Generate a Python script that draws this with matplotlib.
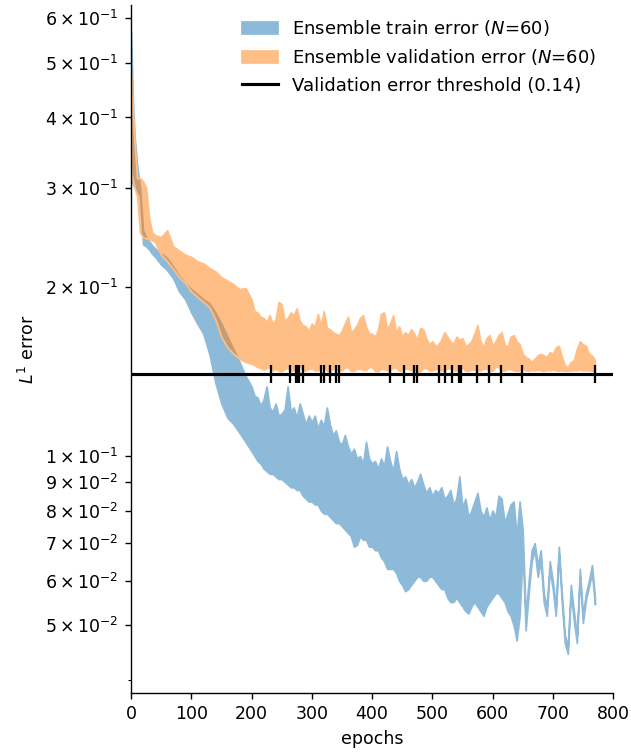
import numpy as np
import matplotlib
matplotlib.use("Agg")
import matplotlib.pyplot as plt
from matplotlib.ticker import FixedLocator, FuncFormatter

epochs = [0, 3, 6, 10, 15, 20, 25, 30, 35, 40] + list(range(50, 200, 10)) + list(range(200, 775, 5))

train_hi = [0.569, 0.43, 0.37, 0.33, 0.30, 0.252, 0.245, 0.241, 0.237, 0.234,
            0.229, 0.225, 0.217, 0.209, 0.203, 0.198, 0.194, 0.190, 0.187, 0.180, 0.172, 0.163, 0.155, 0.147, 0.139,
            0.133, 0.128, 0.127, 0.123, 0.126, 0.133, 0.122, 0.120, 0.124, 0.118,
            0.119, 0.121, 0.133, 0.120, 0.122, 0.117, 0.124, 0.119, 0.114, 0.118,
            0.115, 0.118, 0.112, 0.116, 0.113, 0.122, 0.114, 0.109, 0.111, 0.106,
            0.105, 0.109, 0.104, 0.101, 0.103, 0.099, 0.100, 0.097, 0.106, 0.099,
            0.097, 0.098, 0.095, 0.099, 0.096, 0.104, 0.098, 0.094, 0.102, 0.095,
            0.091, 0.092, 0.089, 0.091, 0.088, 0.090, 0.093, 0.089, 0.086, 0.088,
            0.085, 0.087, 0.086, 0.088, 0.084, 0.085, 0.087, 0.082, 0.084, 0.092,
            0.081, 0.084, 0.078, 0.080, 0.083, 0.086, 0.080, 0.078, 0.081, 0.077,
            0.080, 0.078, 0.085, 0.084, 0.076, 0.079, 0.082, 0.083, 0.072,
            0.083, 0.074, 0.052, 0.060, 0.068, 0.070, 0.064, 0.068, 0.057, 0.054, 0.065, 0.060, 0.054,
            0.069, 0.057, 0.048, 0.046, 0.059, 0.053, 0.048, 0.063, 0.052, 0.057, 0.060, 0.064, 0.056]

train_lo = [0.310, 0.305, 0.300, 0.297, 0.290, 0.238, 0.236, 0.233, 0.229, 0.226,
            0.219, 0.214, 0.207, 0.196, 0.190, 0.180, 0.172, 0.165, 0.152, 0.135, 0.124, 0.117, 0.114, 0.110, 0.106,
            0.102, 0.100, 0.098, 0.097, 0.095, 0.094, 0.093, 0.093, 0.092, 0.091,
            0.091, 0.090, 0.089, 0.088, 0.088, 0.087, 0.087, 0.085, 0.084, 0.083,
            0.083, 0.082, 0.082, 0.080, 0.079, 0.079, 0.078, 0.077, 0.076, 0.076,
            0.075, 0.074, 0.073, 0.072, 0.069, 0.0695, 0.072, 0.071, 0.071, 0.069,
            0.069, 0.068, 0.068, 0.066, 0.065, 0.063, 0.063, 0.063, 0.062, 0.060,
            0.059, 0.0575, 0.058, 0.059, 0.060, 0.061, 0.061, 0.060, 0.060, 0.061,
            0.061, 0.060, 0.059, 0.058, 0.058, 0.056, 0.055, 0.055, 0.056, 0.055,
            0.054, 0.053, 0.0525, 0.054, 0.055, 0.054, 0.053, 0.052, 0.054, 0.055,
            0.056, 0.057, 0.057, 0.056, 0.055, 0.053, 0.052, 0.050, 0.047,
            0.052, 0.068, 0.049, 0.057, 0.065, 0.068, 0.061, 0.065, 0.055, 0.052, 0.063, 0.058, 0.052,
            0.067, 0.055, 0.0465, 0.0445, 0.057, 0.051, 0.0465, 0.061, 0.0505, 0.0555, 0.0585, 0.062, 0.0545]

val_hi = [0.48, 0.41, 0.36, 0.312, 0.312, 0.308, 0.300, 0.265, 0.250, 0.247,
          0.245, 0.252, 0.236, 0.232, 0.228, 0.226, 0.222, 0.220, 0.216, 0.213, 0.208, 0.205, 0.202, 0.198, 0.199,
          0.190, 0.181, 0.180, 0.177, 0.176, 0.173, 0.178, 0.172, 0.175, 0.188,
          0.186, 0.174, 0.176, 0.180, 0.178, 0.183, 0.174, 0.171, 0.170, 0.167,
          0.172, 0.170, 0.179, 0.171, 0.181, 0.169, 0.168, 0.166, 0.165, 0.164,
          0.167, 0.172, 0.177, 0.166, 0.168, 0.171, 0.176, 0.178, 0.170, 0.165,
          0.165, 0.163, 0.168, 0.179, 0.180, 0.168, 0.172, 0.178, 0.166, 0.170,
          0.163, 0.166, 0.164, 0.168, 0.165, 0.161, 0.169, 0.168, 0.162, 0.158,
          0.160, 0.157, 0.158, 0.161, 0.166, 0.163, 0.160, 0.158, 0.163, 0.161,
          0.162, 0.157, 0.158, 0.160, 0.165, 0.171, 0.160, 0.156, 0.162, 0.164,
          0.157, 0.160, 0.164, 0.166, 0.158, 0.156, 0.163, 0.164, 0.160,
          0.158, 0.152, 0.150, 0.149, 0.147, 0.149, 0.151, 0.152, 0.151, 0.150, 0.153, 0.152, 0.156,
          0.157, 0.150, 0.145, 0.144, 0.147, 0.148, 0.155, 0.160, 0.158, 0.157, 0.152, 0.151, 0.148]

val_lo = [0.32, 0.31, 0.30, 0.290, 0.250, 0.245, 0.244, 0.243, 0.242, 0.240,
          0.228, 0.222, 0.215, 0.208, 0.203, 0.196, 0.192, 0.188, 0.184, 0.175, 0.163, 0.156, 0.152, 0.149, 0.147,
          0.146, 0.145, 0.144, 0.1435, 0.1425, 0.1432, 0.1440, 0.1420, 0.1430, 0.1418,
          0.1415, 0.1428, 0.1435, 0.1420, 0.1420, 0.1438, 0.1445, 0.1422, 0.1418, 0.1430,
          0.1430, 0.1420, 0.1420, 0.1436, 0.1440, 0.1418, 0.1415, 0.1428, 0.1432, 0.1420,
          0.1420, 0.1438, 0.1438, 0.1418, 0.1418, 0.1430, 0.1430, 0.1422, 0.1422, 0.1440,
          0.1440, 0.1416, 0.1416, 0.1428, 0.1428, 0.1420, 0.1420, 0.1436, 0.1436, 0.1418,
          0.1418, 0.1430, 0.1430, 0.1422, 0.1422, 0.1415, 0.1415, 0.1434, 0.1434, 0.1420,
          0.1420, 0.1428, 0.1428, 0.1418, 0.1418, 0.1432, 0.1432, 0.1420, 0.1420, 0.1436,
          0.1436, 0.1418, 0.1418, 0.1425, 0.1425, 0.1420, 0.1420, 0.1430, 0.1430, 0.1418,
          0.1418, 0.1440, 0.1440, 0.1420, 0.1420, 0.1428, 0.1428, 0.1420, 0.1418,
          0.1418, 0.1425, 0.1420, 0.1418, 0.1422, 0.1420, 0.1425, 0.1420, 0.1418, 0.1422, 0.1420, 0.1425, 0.1420,
          0.1418, 0.1420, 0.1418, 0.1418, 0.1420, 0.1422, 0.1420, 0.1425, 0.1420, 0.1422, 0.1420, 0.1418, 0.1420]

# epochs at which single models hit the validation threshold
stop_epochs = [232, 264, 274, 277, 279, 285, 315, 320, 330, 341, 345, 430, 453,
               470, 475, 511, 521, 532, 544, 547, 574, 595, 614, 649, 770]
threshold = 0.14

ytick_major = [0.05, 0.06, 0.07, 0.08, 0.09, 0.1, 0.2, 0.3, 0.4, 0.5, 0.6]
ytick_minor = [0.04]


def sci_label(v, pos):
    e = int(np.floor(np.log10(v) + 1e-9))
    m = int(round(v / 10 ** e))
    return r'$\mathdefault{%d\times10^{%d}}$' % (m, e)


fig = plt.figure(figsize=(631 / 125, 753 / 125), dpi=125)
ax = fig.add_axes([0.2076, 0.0797, 0.7639, 0.9137])

# edges in the already-blended tint so the outline does not darken
ax.fill_between(epochs, train_lo, train_hi, facecolor=(0.122, 0.467, 0.706, 0.5),
                edgecolor='#8fbbd9', lw=1.0, label='Ensemble train error ($N$=60)')
ax.fill_between(epochs, val_lo, val_hi, facecolor=(1.0, 0.498, 0.055, 0.5),
                edgecolor='#ffbf86', lw=1.0, label='Ensemble validation error ($N$=60)')
ax.axhline(threshold, color='k', lw=1.8, label='Validation error threshold (0.14)')
ax.plot(stop_epochs, [threshold] * len(stop_epochs), ls='none', marker='|',
        color='k', ms=10.5, mew=1.3)

ax.set_yscale('log')
ax.set_xlim(0, 800)
ax.set_ylim(0.0379, 0.634)
ax.yaxis.set_major_locator(FixedLocator(ytick_major))
ax.yaxis.set_minor_locator(FixedLocator(ytick_minor))
ax.yaxis.set_major_formatter(FuncFormatter(sci_label))
ax.yaxis.set_minor_formatter(FuncFormatter(lambda v, pos: ''))

ax.spines['top'].set_visible(False)
ax.spines['right'].set_visible(False)
ax.set_xlabel('epochs')
ax.set_ylabel('$L^1$ error')
ax.legend(frameon=False, loc='upper right', bbox_to_anchor=(1.0, 1.004), fontsize=10.4)

fig.savefig('out.png', dpi=125)
